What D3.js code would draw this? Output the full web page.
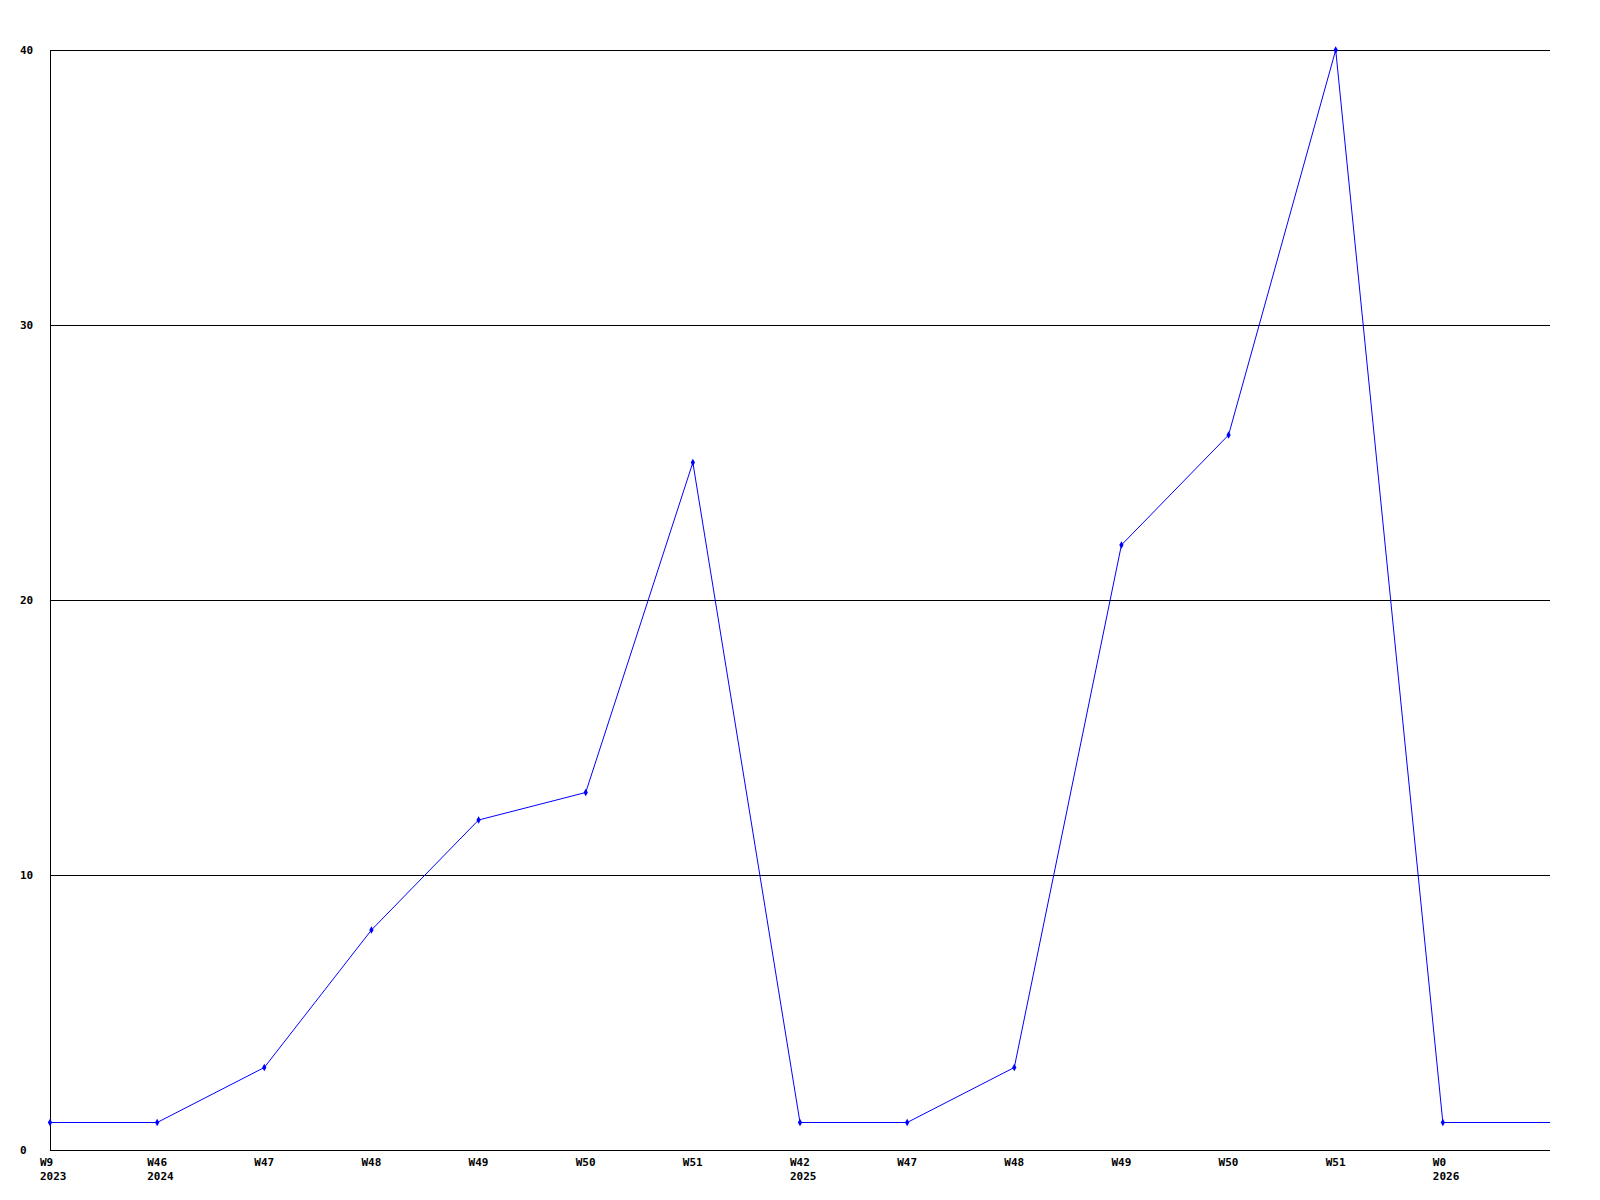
<!DOCTYPE html>
<html><head><meta charset="utf-8">
<script src="https://cdn.jsdelivr.net/npm/d3@7"></script>
<style>html,body{margin:0;padding:0;background:#fff;}</style>
</head><body>
<script>
const weekLabels = ["W9","W46","W47","W48","W49","W50","W51","W42","W47","W48","W49","W50","W51","W0",""];
const yearLabels = ["2023","2024","","","","","","2025","","","","","","2026",""];
const values = [1,1,3,8,12,13,25,1,1,3,22,26,40,1,1];
const yTicks = [0,10,20,30,40];

const W = 1600, H = 1200;
const m = {left:50, right:50, top:50, bottom:50};
const svg = d3.select("body").append("svg").attr("width",W).attr("height",H);
const idx = d3.range(values.length);
const x = d3.scaleLinear().domain([0, values.length-1]).range([m.left, W-m.right]);
const y = d3.scaleLinear().domain([0,40]).range([H-m.bottom, m.top]);
const font = "'DejaVu Sans Mono', monospace";
const fs = 11;

// gridlines
svg.append("g").selectAll("line").data(yTicks.filter(d=>d>0)).join("line")
  .attr("x1", m.left).attr("x2", W-m.right)
  .attr("y1", d=>y(d)+0.5).attr("y2", d=>y(d)+0.5)
  .attr("stroke","#000").attr("stroke-width",1).attr("shape-rendering","crispEdges");
// axes lines
svg.append("line").attr("x1",m.left+0.5).attr("x2",m.left+0.5).attr("y1",m.top).attr("y2",H-m.bottom+1)
  .attr("stroke","#000").attr("shape-rendering","crispEdges");
svg.append("line").attr("x1",m.left).attr("x2",W-m.right).attr("y1",H-m.bottom+0.5).attr("y2",H-m.bottom+0.5)
  .attr("stroke","#000").attr("shape-rendering","crispEdges");

// y labels
svg.append("g").selectAll("text").data(yTicks).join("text")
  .attr("x",20).attr("y",d=>y(d)+4)
  .attr("font-family",font).attr("font-size",fs).attr("font-weight","bold").attr("fill","#000")
  .text(d=>d);

// x labels
const xl = svg.append("g");
xl.selectAll("text.w").data(idx).join("text").attr("class","w")
  .attr("x",i=>x(i)-10).attr("y",H-m.bottom+16)
  .attr("font-family",font).attr("font-size",fs).attr("font-weight","bold").attr("fill","#000")
  .text(i=>weekLabels[i]);
xl.selectAll("text.yr").data(idx).join("text").attr("class","yr")
  .attr("x",i=>x(i)-10).attr("y",H-m.bottom+30)
  .attr("font-family",font).attr("font-size",fs).attr("font-weight","bold").attr("fill","#000")
  .text(i=>yearLabels[i]);

// line
svg.append("path").datum(idx)
  .attr("d", d3.line().x(i=>x(i)).y(i=>y(values[i])))
  .attr("fill","none").attr("stroke","#0000ff").attr("stroke-width",1);
// markers
svg.append("g").selectAll("path").data(idx.slice(0,-1)).join("path")
  .attr("d", d3.symbol(d3.symbolDiamond, 16))
  .attr("transform", i=>`translate(${x(i)},${y(values[i])})`)
  .attr("fill","#0000ff");
</script>
</body></html>
